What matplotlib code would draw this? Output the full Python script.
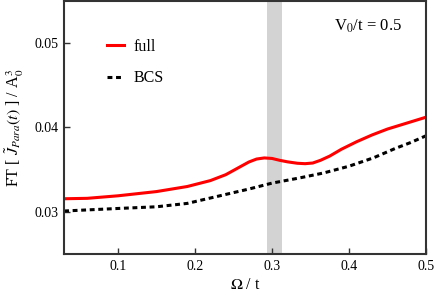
# FT of paramagnetic current vs driving frequency

import numpy as np
import matplotlib
matplotlib.use("Agg")
import matplotlib.pyplot as plt

plt.rcParams['font.family'] = ['Liberation Serif', 'DejaVu Serif']
plt.rcParams['mathtext.fontset'] = 'stix'

# data
omega_full = [0.03, 0.06, 0.1, 0.15, 0.19, 0.22, 0.24, 0.25, 0.26, 0.27, 0.28, 0.29,
              0.30, 0.31, 0.32, 0.333, 0.343, 0.353, 0.363, 0.375, 0.39, 0.41, 0.43,
              0.45, 0.475, 0.5]
ft_full = [0.03155, 0.0316, 0.0319, 0.0324, 0.0330, 0.0337, 0.0344, 0.0349, 0.0354,
           0.0359, 0.03625, 0.03638, 0.03632, 0.0361, 0.03592, 0.03575, 0.0357,
           0.03578, 0.0361, 0.0366, 0.0374, 0.0383, 0.0391, 0.0398, 0.0405, 0.0412]

omega_bcs = [0.03, 0.1, 0.15, 0.19, 0.237, 0.27, 0.30, 0.335, 0.367, 0.40, 0.432,
             0.46, 0.48, 0.5]
ft_bcs = [0.0301, 0.0304, 0.0306, 0.0310, 0.0320, 0.0327, 0.0334, 0.0340, 0.0346,
          0.0354, 0.0364, 0.0375, 0.0382, 0.0390]

band = (0.293, 0.313)
xticks = [0.1, 0.2, 0.3, 0.4, 0.5]
yticks = [0.03, 0.04, 0.05]

fig = plt.figure(figsize=(4.36, 3.0), dpi=100)
ax = fig.add_axes([0.147, 0.153, 0.83, 0.845])

ax.axvspan(band[0], band[1], color='#d3d3d3', lw=0, zorder=0)
ax.plot(omega_full, ft_full, color='red', lw=2.2, label='full')
ax.plot(omega_bcs, ft_bcs, color='black', lw=2.2, linestyle=(0, (1.6, 1.2)), label='BCS')

ax.set_xlim(0.03, 0.5)
ax.set_ylim(0.025, 0.055)
ax.set_xticks(xticks)
ax.set_xticklabels(['0.1', '0.2', '0.3', '0.4', '0.5'])
ax.set_yticks(yticks)
ax.set_yticklabels(['0.03', '0.04', '0.05'])
ax.tick_params(direction='in', length=4, width=1, labelsize=10, colors='#333333',
               labelcolor='black', top=False, right=False, pad=4)

for s in ax.spines.values():
    s.set_color('#333333')
    s.set_linewidth(1.5)

ax.set_xlabel(r'$\Omega$ / t', fontsize=11.5, labelpad=3)
ax.set_ylabel(r'FT [ $\tilde{J}_{Para}(t)$ ] / A$_0^3$', fontsize=11.5, labelpad=6)

ax.text(0.935, 0.9, r'V$_0$/t = 0.5', transform=ax.transAxes, ha='right', va='center',
        fontsize=12)

ax.legend(loc='upper left', bbox_to_anchor=(0.08, 0.905), frameon=False, fontsize=11.5,
          handlelength=1.05, handletextpad=0.6, labelspacing=0.95)

fig.savefig('out.png', dpi=100)
